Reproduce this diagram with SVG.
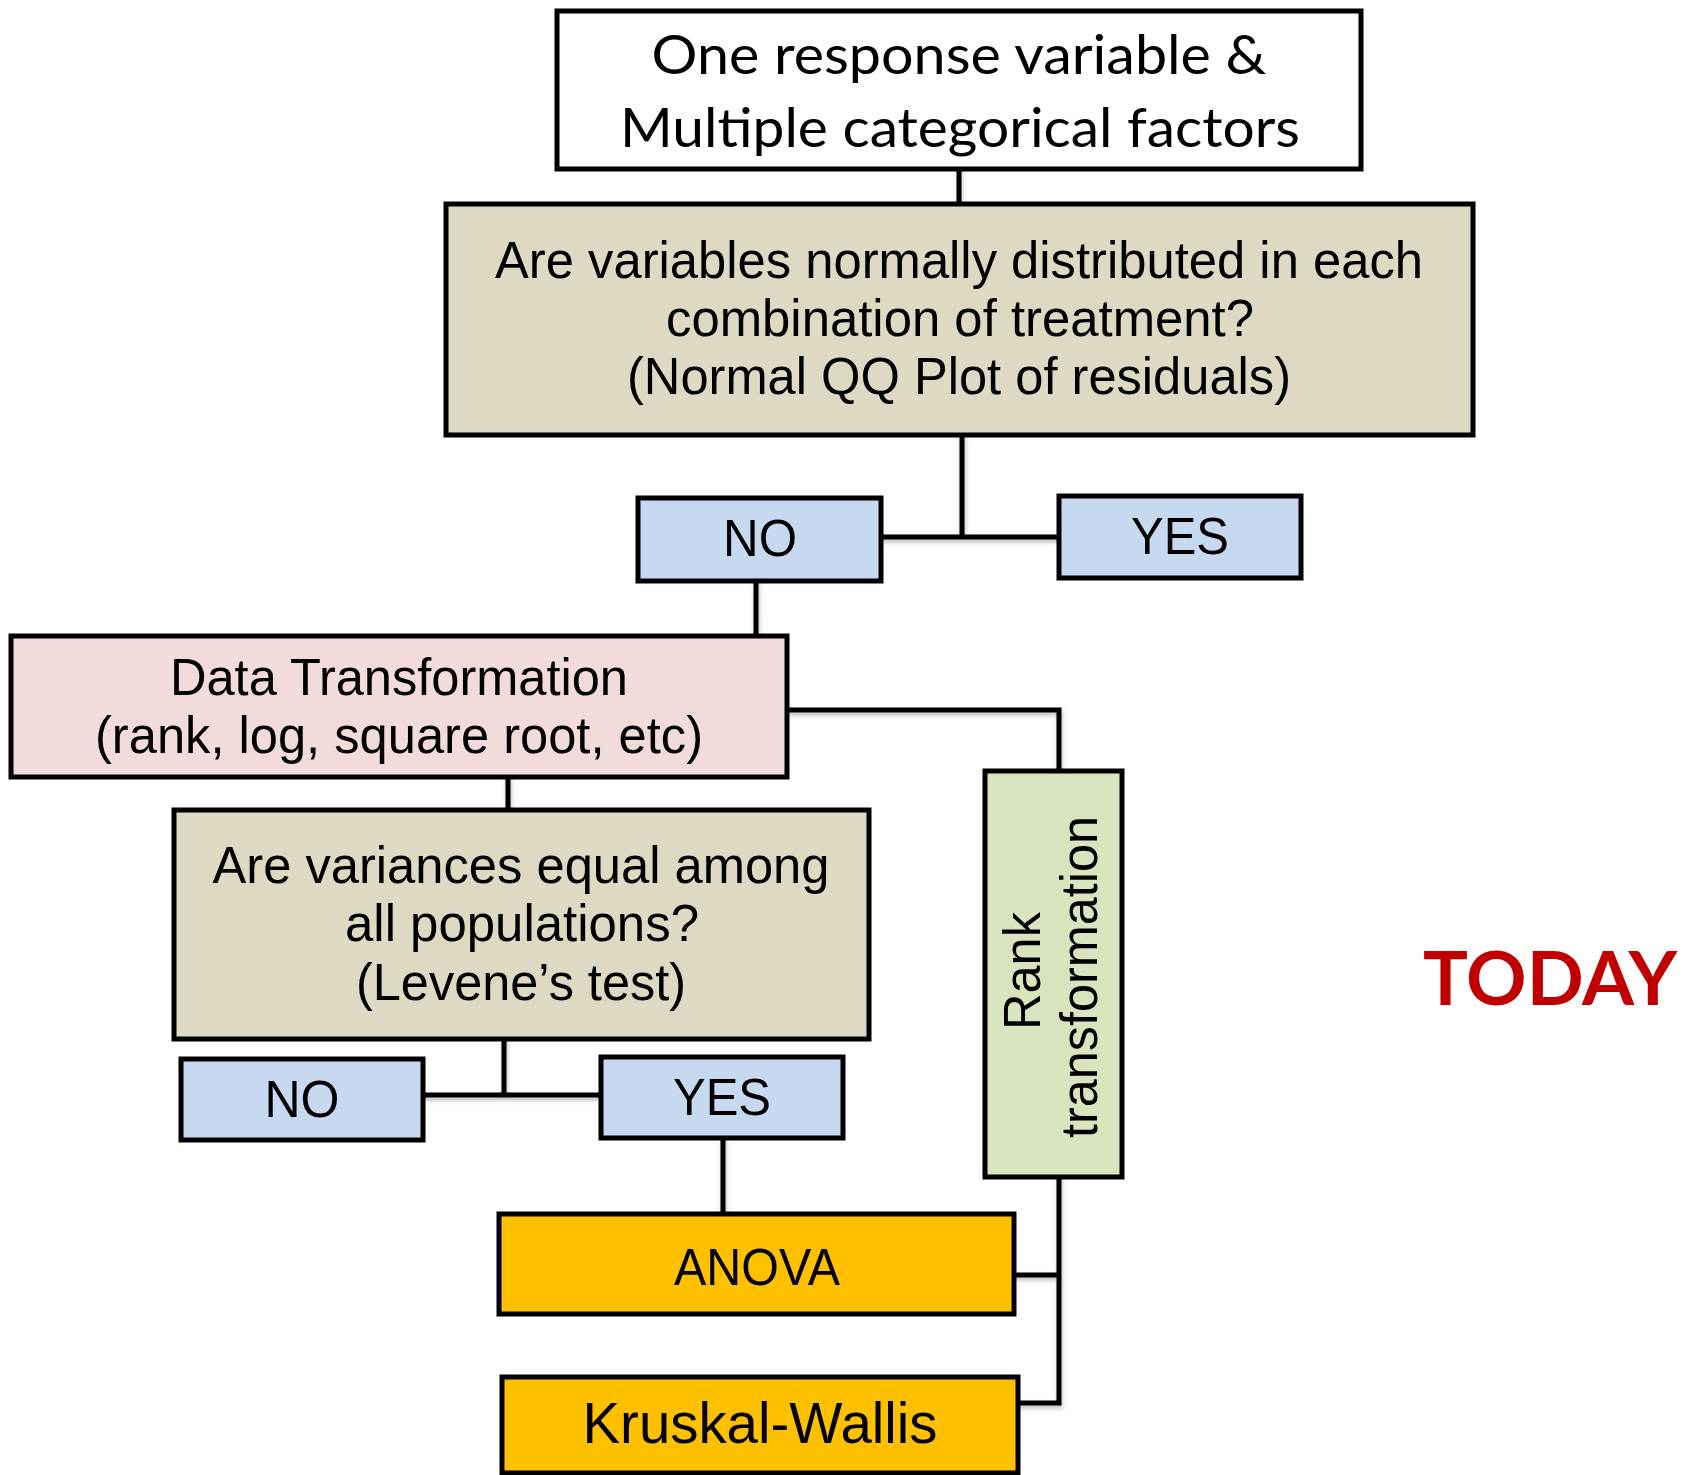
<svg xmlns="http://www.w3.org/2000/svg" width="1686" height="1475" viewBox="0 0 1686 1475">
<style>
.box{stroke:#000;stroke-width:5;stroke-linejoin:miter}
.white{fill:#fff}
.tan{fill:#ddd9c3}
.blue{fill:#c6d9f1}
.pink{fill:#f2dcdb}
.green{fill:#d7e4bd}
.orange{fill:#ffc000}
.h{font-family:"Liberation Sans",Arial,sans-serif;font-size:52px;fill:#000;text-anchor:middle}
.c{font-family:Lato,"Open Sans",sans-serif;font-size:55px;fill:#000;text-anchor:middle}
.conn{fill:none;stroke:#000;stroke-width:5;stroke-linecap:square}
</style>
<defs>
<filter id="sh" x="-5%" y="-5%" width="110%" height="120%">
<feDropShadow dx="1" dy="3" stdDeviation="2" flood-color="#000" flood-opacity="0.25"/>
</filter>
</defs>
<rect width="1686" height="1475" fill="#fff"/>
<g id="connectors" filter="url(#sh)">
<path class="conn" d="M959 170 V203"/>
<path class="conn" d="M962 436 V537 M881 537 H1059"/>
<path class="conn" d="M756 581 V635"/>
<path class="conn" d="M787 710 H1059 V770"/>
<path class="conn" d="M508 776 V809"/>
<path class="conn" d="M504 1039 V1095 M423 1095 H601"/>
<path class="conn" d="M723 1138 V1213"/>
<path class="conn" d="M1059 1177 V1403 M1014 1275 H1059 M1018 1403 H1059"/>
</g>
<g id="start">
<rect class="box white" x="557" y="11" width="804" height="158"/>
<text class="c" x="959" y="74" textLength="615" lengthAdjust="spacingAndGlyphs">One response variable &amp;</text>
<text class="c" x="960" y="147" textLength="680" lengthAdjust="spacingAndGlyphs">Multiple categorical factors</text>
</g>
<g id="normality">
<rect class="box tan" x="446" y="204" width="1027" height="231"/>
<text class="h" x="959" y="278" textLength="928" lengthAdjust="spacingAndGlyphs">Are variables normally distributed in each</text>
<text class="h" x="960" y="336" textLength="588" lengthAdjust="spacingAndGlyphs">combination of treatment?</text>
<text class="h" x="959" y="394" textLength="664" lengthAdjust="spacingAndGlyphs">(Normal QQ Plot of residuals)</text>
</g>
<g id="no1">
<rect class="box blue" x="638" y="498" width="243" height="83"/>
<text class="h" x="760" y="556" textLength="74" lengthAdjust="spacingAndGlyphs">NO</text>
</g>
<g id="yes1">
<rect class="box blue" x="1059" y="496" width="242" height="82"/>
<text class="h" x="1180" y="554" textLength="98" lengthAdjust="spacingAndGlyphs">YES</text>
</g>
<g id="transform">
<rect class="box pink" x="11" y="636" width="776" height="141"/>
<text class="h" x="399" y="695" textLength="458" lengthAdjust="spacingAndGlyphs">Data Transformation</text>
<text class="h" x="399" y="753" textLength="608" lengthAdjust="spacingAndGlyphs">(rank, log, square root, etc)</text>
</g>
<g id="variance">
<rect class="box tan" x="174" y="810" width="695" height="229"/>
<text class="h" x="521" y="883" textLength="617" lengthAdjust="spacingAndGlyphs">Are variances equal among</text>
<text class="h" x="522" y="941" textLength="354" lengthAdjust="spacingAndGlyphs">all populations?</text>
<text class="h" x="521" y="1000" textLength="330" lengthAdjust="spacingAndGlyphs">(Levene’s test)</text>
</g>
<g id="no2">
<rect class="box blue" x="181" y="1059" width="242" height="81"/>
<text class="h" x="302" y="1117" textLength="75" lengthAdjust="spacingAndGlyphs">NO</text>
</g>
<g id="yes2">
<rect class="box blue" x="601" y="1057" width="242" height="81"/>
<text class="h" x="722" y="1115" textLength="98" lengthAdjust="spacingAndGlyphs">YES</text>
</g>
<g id="rank">
<rect class="box green" x="985" y="771" width="137" height="406"/>
<text class="h" transform="translate(1040,971) rotate(-90)" x="0" y="0" textLength="118" lengthAdjust="spacingAndGlyphs">Rank</text>
<text class="h" transform="translate(1097,977) rotate(-90)" x="0" y="0" textLength="322" lengthAdjust="spacingAndGlyphs">transformation</text>
</g>
<g id="anova">
<rect class="box orange" x="499" y="1214" width="515" height="100"/>
<text class="h" x="757" y="1285" textLength="166" lengthAdjust="spacingAndGlyphs">ANOVA</text>
</g>
<g id="kruskal">
<rect class="box orange" x="502" y="1377" width="516" height="96"/>
<text class="h" x="760" y="1443" style="font-size:58px" textLength="355" lengthAdjust="spacingAndGlyphs">Kruskal-Wallis</text>
</g>
<g id="today">
<text x="1550" y="1005" style="font-family:Lato,'Open Sans',sans-serif;font-weight:700;font-size:75px;fill:#c00000;text-anchor:middle">TODAY</text>
</g>
</svg>
